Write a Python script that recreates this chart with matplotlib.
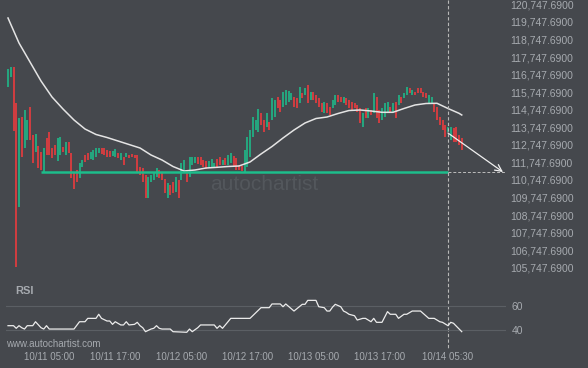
import matplotlib
matplotlib.use("Agg")
import matplotlib.pyplot as plt
from matplotlib import transforms

plt.rcParams['font.family'] = ['Liberation Sans', 'DejaVu Sans']

# half-hour candles, index 0 = 10/10 21:30
opens = [116040, 116610, 117179, 115130, 109210, 114333, 112568, 113024, 114902, 113308,
         112341, 112682, 112341, 111203, 113138, 113479, 112568, 112739, 111829, 112170,
         112625, 112170, 112910, 112284, 111203, 111317, 110861, 111487, 112170, 112284,
         111942, 111886, 112056, 112284, 112568, 112568, 112455, 112398, 112113, 112056,
         112284, 111886, 112056, 112056, 112170, 112227, 112170, 112170, 111487, 111430,
         111032, 109723, 110634, 110748, 110918, 111317, 111146, 110804, 109723, 110463,
         110634, 110065, 110748, 110748, 111203, 111317, 110918, 111601, 111715, 112056,
         112056, 111886, 111829, 111430, 111487, 111487, 111942, 112056, 111601, 111999,
         111601, 111715, 112113, 111999, 111601, 111544, 111203, 111487, 112056, 113195,
         113593, 113479, 114561, 114162, 113764, 114048, 114162, 114333, 115471, 115300,
         114902, 115016, 115187, 115300, 115471, 115414, 115130, 115699, 115585, 116154,
         115300, 115756, 115585, 115414, 115130, 114561, 115130, 114902, 114845, 115016,
         115585, 115471, 115130, 115414, 115300, 115187, 115130, 115016, 114845, 113764,
         114845, 114276, 114731, 114561, 115471, 114731, 114162, 114333, 114617, 114902,
         114617, 115187, 115016, 115471, 115414, 115585, 115984, 115585, 115756, 115984,
         115984, 115756, 115699, 115130, 115130, 115130, 114902, 114333, 114162, 113878,
         113479, 113024, 113707, 113764, 113308, 113138]
closes = [117065, 117179, 113536, 105796, 114276, 112056, 114731, 114162, 113024, 111715,
          113365, 111430, 111317, 112568, 112170, 112170, 111999, 112170, 113138, 113195,
          112341, 112910, 112284, 110861, 110235, 110634, 111715, 111886, 111772, 111886,
          112341, 112455, 112568, 112568, 112227, 112170, 112056, 112056, 112398, 112512,
          111999, 112284, 111601, 112284, 111999, 112056, 111999, 111203, 111032, 110634,
          109723, 110918, 111032, 111146, 111430, 110861, 110748, 110008, 110577, 109894,
          110008, 110918, 109723, 111715, 111886, 110634, 112056, 112056, 112056, 111658,
          111601, 111487, 111373, 111829, 111942, 111715, 111487, 111601, 111886, 111601,
          112170, 112284, 111544, 111317, 111317, 111260, 112455, 113195, 113593, 114333,
          114162, 114788, 113878, 113479, 114561, 113593, 115414, 115300, 114845, 114617,
          115756, 115870, 115813, 115699, 114902, 114845, 116040, 115414, 115984, 115130,
          115756, 115300, 115130, 114902, 114617, 115187, 114561, 114447, 115300, 115585,
          115187, 115187, 115471, 115016, 114845, 114731, 114845, 114617, 113991, 114561,
          114276, 114845, 114447, 115699, 114276, 113991, 114845, 115130, 115187, 114561,
          115130, 114276, 115585, 115130, 115699, 116040, 115699, 115870, 115585, 115699,
          115699, 115471, 115414, 115585, 115471, 114617, 114162, 113878, 113593, 113195,
          113764, 113764, 112910, 112910, 112739, 112455]

sma_idx = [0, 4, 8, 12, 16, 20, 24, 28, 32, 36, 40, 44, 48, 52, 56, 60, 64, 68, 72, 76,
           80, 84, 88, 92, 96, 100, 104, 108, 112, 116, 120, 124, 128, 132, 136, 140,
           144, 148, 152, 156, 160, 164, 165]
sma_val = [119968, 118545, 117464, 116383, 115472, 114789, 114163, 113650, 113338, 113167,
           112968, 112768, 112569, 112171, 111886, 111516, 111260, 111317, 111430, 111470,
           111516, 111545, 111772, 112228, 112654, 113138, 113593, 113992, 114248, 114333,
           114532, 114703, 114732, 114675, 114601, 114601, 114817, 115016, 115102, 115113,
           114817, 114544, 114447]

rsi_idx = [0, 2, 3, 4, 5, 6, 7, 9, 10, 12, 13, 14, 15, 24, 26, 28, 29, 32, 33, 34,
           36, 37, 38, 39, 41, 42, 43, 44, 46, 47, 48, 49, 50, 52, 53, 54, 55, 56, 59, 60,
           65, 66, 67, 69, 70, 75, 76, 77, 78, 80, 81, 88, 92, 95, 96, 99, 100, 101, 104, 107,
           108, 109, 112, 113, 115, 116, 117, 118, 119, 121, 122, 123, 124, 126, 127, 129, 130,
           132, 133, 134, 136, 138, 139, 141, 142, 144, 145, 147, 150, 153, 155, 157, 158, 160,
           161, 162, 165]
rsi_val = [43.6, 43.6, 41.4, 43.6, 41.9, 40.8, 43.6, 43.6, 46.9, 41.9, 40.8, 43.6, 40.8,
           40.8, 46.9, 46.9, 49.7, 49.7, 53.1, 49.7, 47.5, 47.5, 44.7, 46.9, 44.2, 44.2, 46.9,
           44.2, 44.7, 46.4, 43.6, 41.9, 38.6, 40.8, 41.4, 43.6, 41.4, 40.8, 40.8, 38.6, 38.1,
           40.8, 38.6, 41.9, 44.2, 44.2, 41.4, 43.6, 41.4, 46.9, 49.7, 49.7, 58.6, 58.6, 61.7,
           61.7, 59.4, 61.7, 55.8, 61.4, 61.4, 64.7, 64.7, 59.4, 58.6, 55.8, 55.8, 59.0, 61.4,
           59.4, 55.8, 54.7, 53.1, 51.9, 48.3, 49.7, 49.7, 46.9, 49.7, 46.4, 46.4, 55.3, 53.1,
           53.1, 49.7, 53.1, 53.1, 55.8, 55.8, 49.7, 49.7, 46.9, 46.4, 43.6, 46.4, 45.6, 38.6]

support_level = 111190
support_start = 12
signal_idx = 160            # 10/14 05:30
forecast_end = (180, 111200)
forecast_start = (160, 113420)

price_ticks = [105747.69 + 1000 * k for k in range(16)]
time_labels = ['10/11 05:00', '10/11 17:00', '10/12 05:00', '10/12 17:00',
               '10/13 05:00', '10/13 17:00', '10/14 05:30']
time_idx = [15, 39, 63, 87, 111, 135, 160]
rsi_ticks = [40, 60]

bg = '#45484d'
txt = '#a6aaaf'
green = '#1dbd8b'
red = '#f23b3d'

W, H = 588, 368
fig = plt.figure(figsize=(W / 100, H / 100), dpi=100)
fig.patch.set_facecolor(bg)


def px_axes(l, t, r, b):
    return fig.add_axes([l / W, 1 - b / H, (r - l) / W, (b - t) / H])


# price panel
ax = px_axes(2.5, 0, 505.75, 278)
ax.set_facecolor(bg)
ax.set_xlim(-2, 181)
ax.set_ylim(105170, 120992)
for s in ax.spines.values():
    s.set_visible(False)
ax.set_xticks([])
ax.yaxis.tick_right()
ax.set_yticks(price_ticks)
ax.set_yticklabels([f'{v:,.4f}' for v in price_ticks])
ax.tick_params(axis='y', length=0, pad=3, labelsize=7.5, labelcolor=txt)

ax.text(0.412, 0.337, 'autochartist', transform=ax.transAxes, fontsize=15,
        color='#53575c', ha='left', va='center', zorder=0)

idx = list(range(len(opens)))
lows = [min(o, c) for o, c in zip(opens, closes)]
highs = [max(o, c) for o, c in zip(opens, closes)]
cols = [green if c >= o else red for o, c in zip(opens, closes)]
ax.vlines(idx, lows, highs, colors=cols, linewidth=1.15, zorder=2)

ax.plot(sma_idx, sma_val, color='#e4e4e4', lw=1.1, zorder=3)

ax.plot([support_start, signal_idx], [support_level, support_level],
        color=green, lw=1.8, zorder=4, solid_capstyle='butt')
ax.plot([signal_idx, forecast_end[0] + 1], [support_level, support_level],
        color='#bdbdbd', lw=0.7, ls=(0, (3, 2)), zorder=4)
ax.annotate('', xy=forecast_end, xytext=forecast_start,
            arrowprops=dict(arrowstyle='->', color='#f0f0f0', lw=0.9,
                            mutation_scale=12, shrinkA=0, shrinkB=0), zorder=5)

# dashed marker across both panels
tr = transforms.blended_transform_factory(ax.transData, fig.transFigure)
ax.plot([signal_idx, signal_idx], [1.0, 1 - 350 / H], transform=tr, color='#b8b8b8',
        lw=0.8, ls=(0, (3, 2)), clip_on=False, zorder=6)

# RSI panel, same x scale as the price panel
rx = px_axes(6, 282, 505.75, 342)
rx.set_facecolor('none')
rx.set_xlim((6 - 8) / 2.75, 181)
rx.set_ylim(30, 80)
for s in rx.spines.values():
    s.set_visible(False)
rx.yaxis.tick_right()
rx.set_yticks(rsi_ticks)
rx.set_yticklabels([str(v) for v in rsi_ticks])
rx.tick_params(axis='y', length=0, pad=4, labelsize=7.5, labelcolor=txt)
for v in rsi_ticks:
    rx.axhline(v, color='#5b5f64', lw=0.8, zorder=0)
rx.plot(rsi_idx, rsi_val, color='#ececec', lw=0.9)
rx.set_xticks(time_idx)
rx.set_xticklabels(time_labels)
rx.tick_params(axis='x', length=0, pad=7, labelsize=7, labelcolor=txt)

fig.text(15 / W, 1 - 291 / H, 'RSI', fontsize=8, fontweight='bold', color=txt,
         ha='left', va='center')
fig.text(6 / W, 1 - 344 / H, 'www.autochartist.com', fontsize=7, color=txt,
         ha='left', va='center')

fig.savefig('out.png', dpi=100, facecolor=bg)
